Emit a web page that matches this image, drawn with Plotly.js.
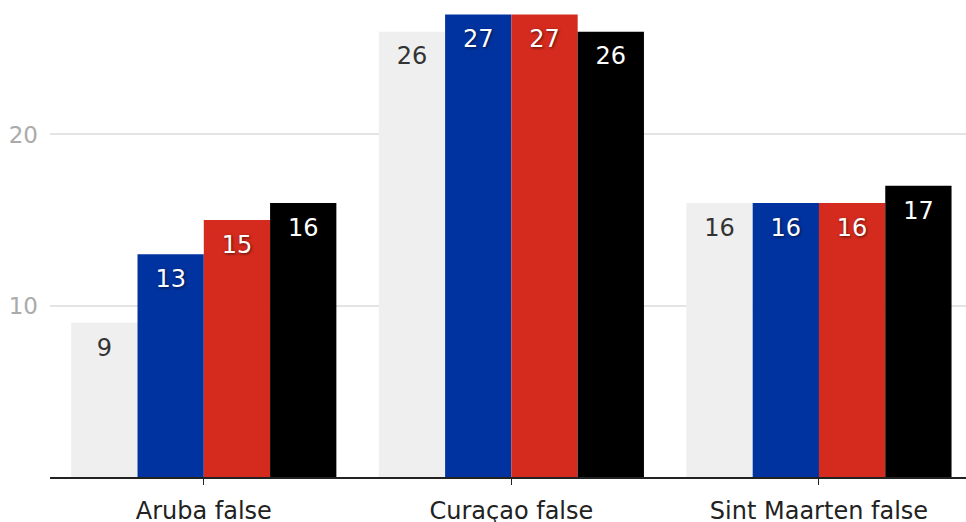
<!DOCTYPE html>
<html>
<head>
<meta charset="utf-8">
<script src="https://cdn.plot.ly/plotly-3.0.1.min.js"></script>
<style>html,body{margin:0;padding:0;background:#fff;}#chart{width:966px;height:522px;}</style>
</head>
<body>
<div id="chart"></div>
<script>
const categories = ["Aruba false", "Curaçao false", "Sint Maarten false"];
const seriesNames = ["Series A", "Series B", "Series C", "Series D"];
const seriesA = [9, 26, 16];
const seriesB = [13, 27, 16];
const seriesC = [15, 27, 16];
const seriesD = [16, 26, 17];
const yTickVals = [10, 20];

const colors = ["#efefef", "#0033a0", "#d52b1e", "#000000"];
const textColors = ["#333333", "#ffffff", "#ffffff", "#ffffff"];
const shadows = ["none", "1px 1px 3px rgba(0,0,0,0.6)", "1px 1px 3px rgba(0,0,0,0.6)", "1px 1px 3px rgba(0,0,0,0.6)"];
const allSeries = [seriesA, seriesB, seriesC, seriesD];
const FONT = "DejaVu Sans";

const barTraces = allSeries.map((vals, i) => ({
  type: "bar",
  name: seriesNames[i],
  x: categories,
  y: vals,
  marker: {color: colors[i], line: {width: 0}},
  hoverinfo: "none"
}));

const labelTraces = allSeries.map((vals, i) => ({
  type: "scatter",
  mode: "markers+text",
  name: seriesNames[i] + " labels",
  x: categories,
  y: vals,
  orientation: "v",
  marker: {size: 22, opacity: 0},
  text: vals.map(String),
  textposition: "bottom center",
  textfont: {family: FONT, size: 24, color: textColors[i], shadow: shadows[i]},
  cliponaxis: false,
  hoverinfo: "none",
  showlegend: false
}));

const layout = {
  width: 966,
  height: 522,
  margin: {l: 50, r: 0, t: 0, b: 45},
  paper_bgcolor: "#ffffff",
  plot_bgcolor: "#ffffff",
  barmode: "group",
  bargap: 0.138,
  bargroupgap: 0,
  scattermode: "group",
  scattergap: 0.138,
  showlegend: false,
  font: {family: FONT},
  xaxis: {
    type: "category",
    range: [-0.5, 2.478],
    showline: true,
    linecolor: "#222222",
    linewidth: 1.5,
    ticks: "outside",
    ticklen: 6,
    tickcolor: "#222222",
    tickfont: {family: FONT, size: 24, color: "#222222"},
    ticklabelstandoff: 6,
    showgrid: false,
    zeroline: false
  },
  yaxis: {
    range: [0, 27.85],
    tickvals: yTickVals,
    ticktext: yTickVals.map(String),
    showgrid: true,
    gridcolor: "#e4e4e4",
    gridwidth: 2,
    zeroline: false,
    showline: false,
    ticks: "",
    ticklabelstandoff: 11,
    tickfont: {family: FONT, size: 23, color: "#aaaaaa"}
  }
};

Plotly.newPlot("chart", barTraces.concat(labelTraces), layout, {displayModeBar: false, staticPlot: true});
</script>
</body>
</html>
